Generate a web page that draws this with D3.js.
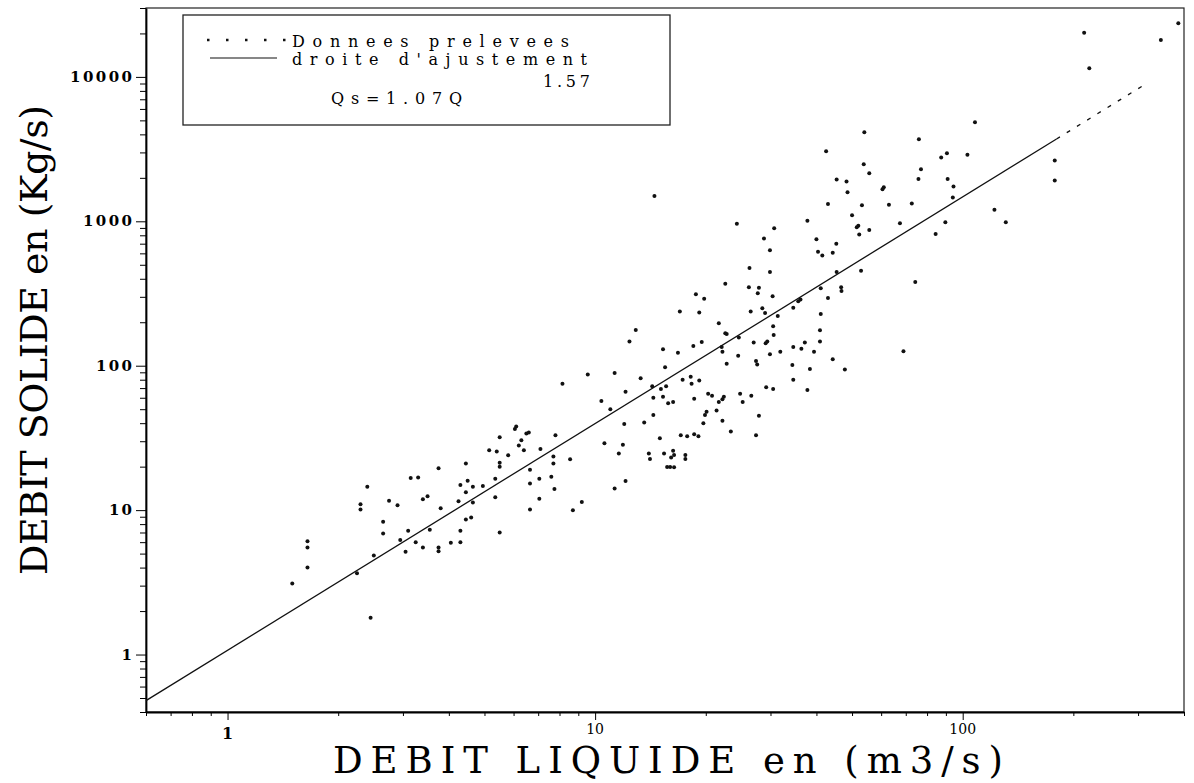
<!DOCTYPE html>
<html>
<head>
<meta charset="utf-8">
<script src="https://cdn.jsdelivr.net/npm/d3@7"></script>
<style>
body { margin: 0; background: #fff; }
</style>
</head>
<body>
<svg id="graph1"></svg>
<script>
var screen = {width: 1194, height: 783};
var margins = {top: 8, right: 10, bottom: 71, left: 146};

// debit liquide Q (m3/s) and debit solide Qs (Kg/s)
var debitLiquide = [
    8.15, 6.1, 6.05, 6.5, 6.6, 7.8, 5.5, 6.3, 6.2, 5.15, 5.4, 6.4, 7.1, 5.8, 7.7, 8.55, 5.5, 5.5, 4.45, 7.7,
    3.75, 6.65, 5.35, 7.05, 7.6, 3.15, 3.3, 4.5, 6.65, 4.3, 4.65, 4.95, 2.4, 7.75, 4.45, 3.5, 3.4, 5.35, 7.05, 2.75,
    4.25, 2.3, 2.3, 2.9, 4.65, 3.8, 6.65, 8.7, 4.6, 4.45, 2.65, 3.1, 3.55, 4.3, 2.65, 5.5, 2.95, 3.25, 4.05, 4.3,
    1.65, 1.65, 3.4, 3.75, 3.75, 3.05, 2.5, 1.65, 2.25, 1.5, 2.45,
    54, 42.5, 53.8, 55.7, 45.4, 48.3, 48.6, 61, 60.5, 14.5, 43, 53.2, 63, 50, 37.8, 24.3, 67.5, 52, 51.5, 55.7,
    30.7, 52.3, 28.8, 40, 45.3, 29.9, 40.4, 41.5, 44.3, 26.3, 29.9, 45.4, 52.9, 22.6, 26.2, 27.9, 27.7, 41.1, 46.7, 46.8,
    18.8, 19.8, 30.4, 43, 35.7, 36.2, 34.6, 17, 19.2, 26.5, 28.5, 29, 41.1, 31.4, 21.7, 30.5, 12.9, 40.9, 22.8, 22.6,
    30.6, 12.4, 24.6, 19.5, 27, 29.1, 29.4, 37.2, 40.9, 18.5, 22.1, 22.2, 34.6, 36.4, 31.9, 15.3, 16.8, 24.5, 29.9, 39.4,
    27.4, 27.6, 22.8, 44.3, 15.5, 34.4, 38.4, 47.8, 69, 13.3, 17.3, 18.2, 18.3, 19.2, 9.55, 11.3, 14.3, 15.1, 15.6, 12.1,
    29.2, 30.5, 34.6, 37.8, 20.3, 20.8, 24.8, 26.6, 14.4, 15.3, 22.4, 22.2, 21.7, 18.6, 15.8, 16.3, 25.2, 10.4, 11, 21.4,
    20.1, 19.9, 19.7, 14.4, 27.9, 13.6, 12, 22.2, 23.4, 17.1, 17.8, 18.6, 19.1, 27.4, 15, 10.6, 11.9, 11.6, 14, 14.1,
    15.4, 16.3, 16.4, 16.1, 17.6, 17.6, 15.7, 16.4, 16, 12.1, 11.3, 9.2,
    214, 386, 346, 221, 108, 76, 87.4, 90.6, 103, 77, 75.8, 91, 94.4, 72.7, 94, 178, 178, 89.7, 84.4, 122,
    131, 74.3
];
var debitSolide = [
    75, 38, 36.5, 34, 34.5, 33, 32, 30.5, 28, 26, 25.5, 26, 26.5, 24, 23.5, 22.5, 21.3, 20, 21, 21,
    19.5, 19, 16.5, 16.5, 17, 16.7, 16.8, 16, 15.3, 14.9, 14.5, 14.7, 14.5, 14, 13.3, 12.5, 11.9, 12.3, 12, 11.6,
    11.5, 11, 10.1, 10.8, 11.3, 10.3, 10.1, 10, 8.9, 8.6, 8.3, 7.2, 7.3, 7.2, 6.9, 7, 6.2, 6, 5.95, 6,
    6.1, 5.5, 5.5, 5.5, 5.2, 5.15, 4.85, 4, 3.65, 3.1, 1.8,
    4130, 3050, 2480, 2150, 1950, 1890, 1590, 1720, 1670, 1500, 1320, 1290, 1300, 1100, 1010, 960, 970, 930, 910, 870,
    895, 810, 760, 750, 700, 630, 615, 580, 605, 475, 445, 445, 455, 370, 350, 347, 317, 344, 349, 329,
    312, 291, 303, 294, 279, 288, 252, 237, 234, 237, 250, 232, 228, 221, 197, 188, 177, 176, 166, 168,
    163, 147, 157, 146, 145, 143, 147, 145, 147, 137, 135, 125, 135, 131, 125, 130, 123, 117, 120, 125,
    108, 102, 103, 111, 97.5, 101, 95, 94, 126, 82, 80, 84, 75, 79, 87, 89, 72, 69, 72, 66,
    71, 69, 80, 68, 64, 62, 64, 62, 60, 61, 61, 58.5, 56, 59, 55, 56, 56, 57, 50, 49,
    48, 45.5, 40, 45.5, 45, 40.5, 39.5, 41.5, 35, 33, 32.5, 33.5, 32.5, 33, 31.5, 29, 28.4, 24.7, 24.7, 22.6,
    24.7, 25.8, 24.1, 23.1, 24.1, 22.6, 19.9, 19.8, 19.9, 15.9, 14.1, 11.4,
    20200, 23500, 18000, 11500, 4850, 3700, 2770, 2960, 2890, 2290, 1960, 1960, 1740, 1330, 1460, 2640, 1920, 985, 817, 1200,
    985, 380
];

// droite d'ajustement Qs = a * Q^b
var fitA = 1.07;
var fitB = 1.57;
var fitSolid = [0.6, 180];
var fitDashed = [180, 310];

var xDomain = [0.6, 400];
var yDomain = [0.4, 30000];
var xLabels = [1, 10, 100];
var yLabels = [1, 10, 100, 1000, 10000];

var legendTexts = ["Donnees prelevees", "droite d'ajustement"];
var equationText = "Qs=1.07Q";
var exponentText = "1.57";
var xTitle = "DEBIT  LIQUIDE  en  (m3/s)";
var yTitle = "DEBIT SOLIDE en (Kg/s)";

var logTicks = function(domain)
{
    var ticks = [];
    for (var e = -1; e <= 5; e++)
    {
        for (var k = 1; k <= 9; k++)
        {
            var v = k * Math.pow(10, e);
            if (v >= domain[0] && v <= domain[1]) { ticks.push(v); }
        }
    }
    return ticks;
}

var setup = function()
{
    var svg = d3.select("#graph1")
        .attr("width", screen.width)
        .attr("height", screen.height);

    var xScale = d3.scaleLog()
        .domain(xDomain)
        .range([margins.left, screen.width - margins.right]);

    var yScale = d3.scaleLog()
        .domain(yDomain)
        .range([screen.height - margins.bottom, margins.top]);

    var bottom = screen.height - margins.bottom;

    // frame
    svg.append("rect")
        .attr("x", margins.left)
        .attr("y", margins.top)
        .attr("width", screen.width - margins.right - margins.left)
        .attr("height", bottom - margins.top)
        .attr("fill", "none")
        .attr("stroke", "#222")
        .attr("stroke-width", 1.2);

    var allX = logTicks(xDomain);
    var allY = logTicks(yDomain);
    var isMajor = function(v) { return Math.abs(Math.log10(v) - Math.round(Math.log10(v))) < 1e-9; };

    // minor ticks
    svg.append("g")
        .attr("transform", "translate(0," + bottom + ")")
        .call(d3.axisBottom(xScale).tickValues(allX.filter(function(v) { return !isMajor(v); }))
            .tickSize(4).tickSizeOuter(0).tickFormat(""))
        .call(function(g) { g.select(".domain").attr("stroke-width", 2); });

    svg.append("g")
        .attr("transform", "translate(0," + bottom + ")")
        .call(d3.axisBottom(xScale).tickValues(allX.filter(isMajor))
            .tickSize(8).tickSizeOuter(0).tickFormat(""))
        .call(function(g) { g.select(".domain").remove(); });

    svg.append("g")
        .attr("transform", "translate(" + margins.left + ",0)")
        .call(d3.axisLeft(yScale).tickValues(allY.filter(function(v) { return !isMajor(v); }))
            .tickSize(6).tickSizeOuter(0).tickFormat(""))
        .call(function(g) { g.select(".domain").attr("stroke-width", 1.8); });

    svg.append("g")
        .attr("transform", "translate(" + margins.left + ",0)")
        .call(d3.axisLeft(yScale).tickValues(allY.filter(isMajor))
            .tickSize(10).tickSizeOuter(0).tickFormat(""))
        .call(function(g) { g.select(".domain").remove(); });

    // y tick labels
    svg.selectAll(".ylab")
        .data(yLabels)
        .enter()
        .append("text")
        .attr("class", "ylab")
        .attr("x", 132)
        .attr("y", function(d) { return yScale(d) + 5; })
        .attr("text-anchor", "end")
        .attr("font-family", "DejaVu Serif")
        .attr("font-weight", "bold")
        .attr("font-size", 15)
        .attr("textLength", function(d) { return String(d).length * 13 - 3; })
        .attr("lengthAdjust", "spacing")
        .text(function(d) { return d; });

    // x tick labels
    svg.selectAll(".xlab")
        .data(xLabels)
        .enter()
        .append("text")
        .attr("class", "xlab")
        .attr("x", function(d) { return xScale(d); })
        .attr("y", function(d) { return d == 1 ? 739 : 734; })
        .attr("text-anchor", "middle")
        .attr("font-family", "DejaVu Serif")
        .attr("font-weight", function(d) { return d == 1 ? "bold" : "normal"; })
        .attr("font-size", function(d) { return d == 1 ? 16 : 14; })
        .text(function(d) { return d; });

    // axis titles
    svg.append("text")
        .attr("x", 333)
        .attr("y", 773)
        .attr("font-family", "DejaVu Serif")
        .attr("font-size", 37)
        .attr("textLength", 670)
        .attr("lengthAdjust", "spacing")
        .text(xTitle);

    svg.append("text")
        .attr("transform", "translate(47,340) rotate(-90)")
        .attr("text-anchor", "middle")
        .attr("font-family", "DejaVu Serif")
        .attr("font-size", 38)
        .attr("textLength", 470)
        .attr("lengthAdjust", "spacing")
        .text(yTitle);

    // droite d'ajustement
    var line = d3.line()
        .x(function(d) { return xScale(d); })
        .y(function(d) { return yScale(fitA * Math.pow(d, fitB)); });

    svg.append("path")
        .datum(fitSolid)
        .attr("fill", "none")
        .attr("stroke", "#111")
        .attr("stroke-width", 1.3)
        .attr("d", line);

    svg.append("path")
        .datum(fitDashed)
        .attr("fill", "none")
        .attr("stroke", "#111")
        .attr("stroke-width", 1.3)
        .attr("stroke-dasharray", "4,8")
        .attr("d", line);

    // donnees
    svg.selectAll(".pt")
        .data(debitLiquide)
        .enter()
        .append("circle")
        .attr("class", "pt")
        .attr("cx", function(d) { return xScale(d); })
        .attr("cy", function(d, i) { return yScale(debitSolide[i]); })
        .attr("r", 2)
        .attr("fill", "#111");

    legend();
}

var legend = function()
{
    var svg = d3.select("#graph1");

    svg.append("rect")
        .attr("x", 183)
        .attr("y", 15)
        .attr("width", 487)
        .attr("height", 110)
        .attr("fill", "#fff")
        .attr("stroke", "#222")
        .attr("stroke-width", 1.3);

    svg.append("line")
        .attr("x1", 207).attr("x2", 287)
        .attr("y1", 40).attr("y2", 40)
        .attr("stroke", "#111")
        .attr("stroke-width", 2.5)
        .attr("stroke-dasharray", "2.5,16.5");

    svg.append("line")
        .attr("x1", 210).attr("x2", 277)
        .attr("y1", 58).attr("y2", 58)
        .attr("stroke", "#111")
        .attr("stroke-width", 1.2);

    svg.selectAll(".leg")
        .data(legendTexts)
        .enter()
        .append("text")
        .attr("class", "leg")
        .attr("x", 292)
        .attr("y", function(d, i) { return 47 + i * 18; })
        .attr("font-family", "DejaVu Serif")
        .attr("font-size", 16)
        .attr("textLength", function(d, i) { return i == 0 ? 277 : 295; })
        .attr("lengthAdjust", "spacing")
        .text(function(d) { return d; });

    svg.append("text")
        .attr("x", 543)
        .attr("y", 87)
        .attr("font-family", "DejaVu Serif")
        .attr("font-size", 16)
        .attr("textLength", 47)
        .attr("lengthAdjust", "spacing")
        .text(exponentText);

    svg.append("text")
        .attr("x", 331)
        .attr("y", 104)
        .attr("font-family", "DejaVu Serif")
        .attr("font-size", 16)
        .attr("textLength", 131)
        .attr("lengthAdjust", "spacing")
        .text(equationText);
}

setup();
</script>
</body>
</html>
